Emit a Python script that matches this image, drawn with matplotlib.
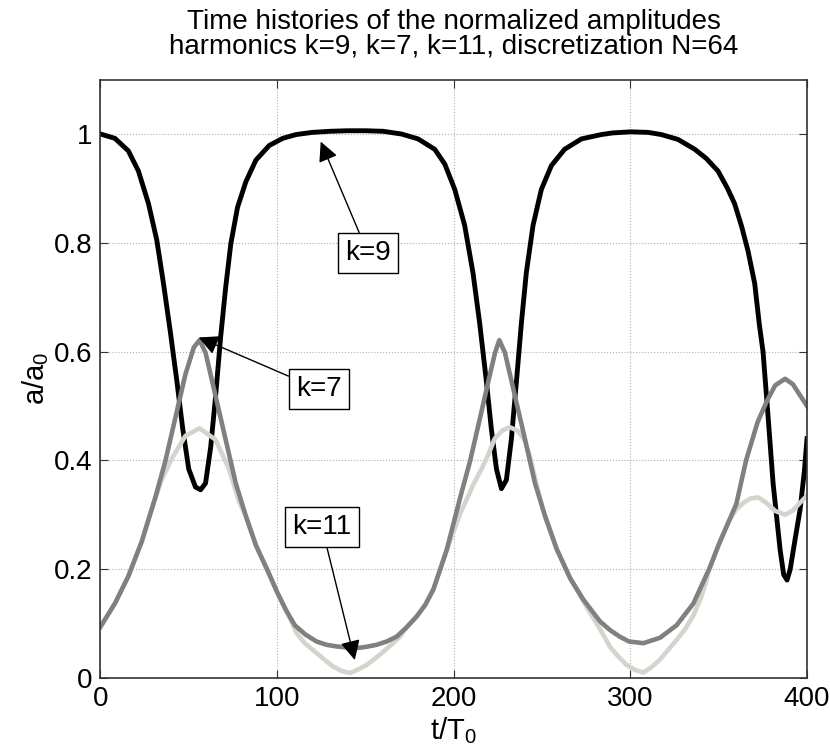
"""
time histories of the normalized amplitudes
harmonics k=9, k=7, k=11 (N=64)
"""

import matplotlib
matplotlib.use('Agg')
from matplotlib import pyplot as plt

plt.rcParams['font.family'] = ['Liberation Sans', 'DejaVu Sans']

# k=9 (zwart)
t_k9 = [0, 8.2, 15.8, 21.5, 27.2, 31.9, 35.7, 39.5, 43.3, 46.6, 50, 53.8,
        56.7, 59.5, 62.4, 65.2, 68, 70.9, 73.8, 77.6, 82.3, 88, 95.6, 103.2,
        110.8, 120, 130, 140, 150, 160, 170.4, 179.8, 189.2, 194.9, 200.6,
        206.2, 210.9, 214.7, 218.5, 221.3, 224.2, 227, 229.8, 232.6, 235.5,
        238.3, 241.1, 244.9, 249.6, 255.3, 262.8, 272.3, 283.6, 290, 300,
        310, 317.5, 327, 336.4, 343, 349.6, 355, 359, 363, 366.6, 370.4,
        373, 375.1, 378, 380.8, 384.8, 386.8, 388.7, 390.5, 393, 396.1,
        398.5, 400]
a_k9 = [1.0, 0.992, 0.969, 0.932, 0.872, 0.805, 0.725, 0.638, 0.545, 0.458,
        0.384, 0.351, 0.346, 0.358, 0.424, 0.518, 0.625, 0.718, 0.798, 0.865,
        0.912, 0.952, 0.979, 0.992, 0.999, 1.003, 1.005, 1.006, 1.006, 1.005,
        1.0, 0.991, 0.972, 0.945, 0.898, 0.832, 0.745, 0.652, 0.545, 0.458,
        0.384, 0.348, 0.364, 0.438, 0.545, 0.652, 0.745, 0.832, 0.898, 0.942,
        0.972, 0.991, 0.999, 1.002, 1.004, 1.003, 0.999, 0.99, 0.972, 0.955,
        0.932, 0.9, 0.872, 0.83, 0.785, 0.725, 0.65, 0.60, 0.479, 0.358,
        0.235, 0.19, 0.18, 0.2, 0.25, 0.31, 0.38, 0.44]

# k=7 (grijs)
t_k7 = [0, 8.2, 15.8, 23.4, 31, 36.7, 42.4, 48.1, 52.9, 56.1, 59.5, 65.2,
        70.9, 76.6, 82.3, 88, 95, 100, 105, 110, 116, 122.4, 128, 133.7, 140,
        145, 150, 156.4, 162, 167.7, 173, 179, 184, 188.5, 196, 203.6, 209.2,
        214.9, 220.5, 223.4, 225.8, 229, 234.7, 240.4, 246, 251.7, 258.3,
        265.8, 273.4, 282.8, 288.5, 294, 299.3, 307.4, 316.8, 326.2, 335.7,
        345.1, 350, 356, 360, 365.5, 372, 377.4, 382, 387.6, 392, 396, 400]
a_k7 = [0.094, 0.137, 0.187, 0.251, 0.331, 0.398, 0.478, 0.558, 0.608, 0.621,
        0.598, 0.518, 0.438, 0.358, 0.298, 0.244, 0.195, 0.158, 0.125, 0.097,
        0.08, 0.067, 0.061, 0.058, 0.056, 0.055, 0.057, 0.061, 0.067, 0.076,
        0.092, 0.113, 0.135, 0.163, 0.235, 0.331, 0.398, 0.478, 0.558, 0.598,
        0.621, 0.598, 0.518, 0.438, 0.358, 0.298, 0.237, 0.184, 0.144, 0.104,
        0.088, 0.076, 0.067, 0.064, 0.074, 0.097, 0.137, 0.204, 0.245, 0.29,
        0.32, 0.40, 0.47, 0.51, 0.538, 0.55, 0.54, 0.52, 0.50]

# k=11 (lichtgrijs)
t_k11 = [0, 8.2, 15.8, 23.4, 28, 31, 34.8, 40.5, 48.1, 56.1, 65.2, 72.8, 78.5,
         82.3, 88, 95, 100, 105, 108, 111.1, 116, 122.7, 127, 131.8, 136.5,
         141.3, 146, 150.7, 155.5, 160.1, 165, 169.6, 173, 179, 184, 188.5,
         196, 200, 204, 208, 211, 215.7, 219.5, 223.2, 227.5, 231.7, 236,
         240.2, 243, 245.8, 248.5, 251.5, 258.3, 265.8, 270, 275.3, 282.8,
         288.5, 293, 297.9, 302.5, 307.4, 312, 316.8, 321.5, 326.2, 331,
         335.7, 340, 343, 345.1, 350, 356, 360, 364, 368, 372.3, 377, 382,
         387.6, 392, 396, 400]
a_k11 = [0.094, 0.137, 0.187, 0.251, 0.30, 0.33, 0.365, 0.404, 0.445, 0.459,
         0.438, 0.384, 0.324, 0.298, 0.244, 0.195, 0.158, 0.125, 0.105, 0.082,
         0.063, 0.045, 0.033, 0.021, 0.013, 0.009, 0.016, 0.024, 0.036, 0.048,
         0.062, 0.076, 0.092, 0.113, 0.135, 0.163, 0.235, 0.27, 0.305, 0.333,
         0.355, 0.384, 0.41, 0.44, 0.455, 0.461, 0.455, 0.438, 0.408, 0.371,
         0.335, 0.298, 0.237, 0.184, 0.16, 0.13, 0.09, 0.057, 0.04, 0.024,
         0.015, 0.010, 0.02, 0.034, 0.052, 0.07, 0.09, 0.115, 0.148, 0.178,
         0.204, 0.245, 0.29, 0.31, 0.322, 0.33, 0.332, 0.322, 0.307, 0.30,
         0.308, 0.322, 0.335]

fig = plt.figure(figsize=(8.3, 7.56), dpi=100)
ax = fig.add_axes([0.121, 0.1032, 0.8513, 0.7915])

ax.plot(t_k9, a_k9, color='black', lw=3.5, zorder=2)
ax.plot(t_k11, a_k11, color='#d6d3cd', lw=3.3, zorder=2.1)
ax.plot(t_k7, a_k7, color='#808080', lw=3.3, zorder=2.2)

ax.set_xlim(0, 400)
ax.set_ylim(0, 1.1)
ax.set_xticks([0, 100, 200, 300, 400])
ax.set_yticks([0, 0.2, 0.4, 0.6, 0.8, 1])
ax.set_yticklabels(['0', '0.2', '0.4', '0.6', '0.8', '1'])
ax.grid(True, ls=':', color='#b0b0b0', lw=0.8)
ax.tick_params(direction='in', top=True, right=True, labelsize=20, length=6,
               pad=6, color='#333333')
for s in ax.spines.values():
    s.set_color('#333333')
    s.set_linewidth(1.2)

ax.set_xlabel('t/T$_\\mathregular{0}$', fontsize=21, labelpad=2)
ax.set_ylabel('a/a$_\\mathregular{0}$', fontsize=21, labelpad=2)
ax.set_title('Time histories of the normalized amplitudes\n'
             'harmonics k=9, k=7, k=11, discretization N=64',
             fontsize=20, pad=19, linespacing=0.93)

# pijlen met tekstvakken
box = dict(boxstyle='square,pad=0.25', fc='white', ec='black', lw=1)
arrow = dict(arrowstyle='-|>', color='black', lw=1, mutation_scale=30,
             shrinkA=0, shrinkB=0)
ax.annotate('k=9', xy=(124.7, 0.986), xytext=(151.4, 0.781), fontsize=20,
            ha='center', va='center', bbox=box, arrowprops=arrow)
ax.annotate('k=7', xy=(55.6, 0.626), xytext=(123.6, 0.531), fontsize=20,
            ha='center', va='center', bbox=box, arrowprops=arrow)
ax.annotate('k=11', xy=(144, 0.033), xytext=(125.4, 0.277), fontsize=20,
            ha='center', va='center', bbox=box, arrowprops=arrow)

plt.savefig('out.png', dpi=100)
